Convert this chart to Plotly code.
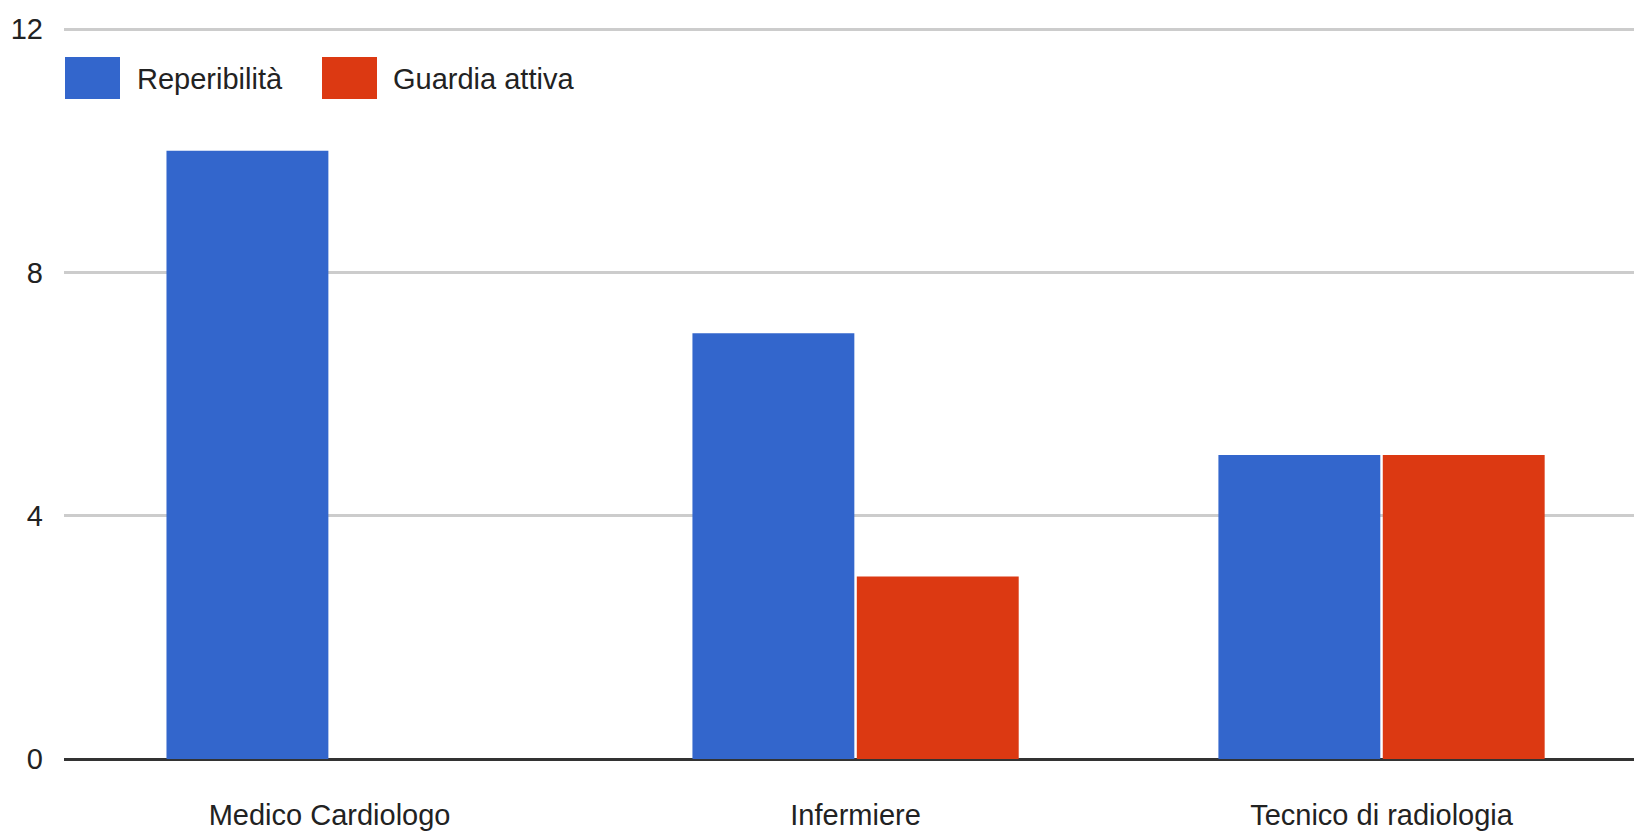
import plotly.graph_objects as go

categories = ["Medico Cardiologo", "Infermiere", "Tecnico di radiologia"]
series_names = ["Reperibilità", "Guardia attiva"]
reperibilita = [10, 7, 5]
guardia_attiva = [0, 3, 5]
series_colors = ["#3366cc", "#dc3912"]
y_ticks = [0, 4, 8, 12]

FONT = "Liberation Sans, Arial, sans-serif"
TXT = "#222222"
FS = 29

fig = go.Figure()
for name, vals, col in zip(series_names, [reperibilita, guardia_attiva], series_colors):
    fig.add_trace(go.Bar(x=categories, y=vals, name=name, marker_color=col,
                         marker_line_width=0, showlegend=False))

W, H = 1634, 838
L, R, T, B = 64, 0, 28, 79
pw, ph = W - L - R, H - T - B

def px_x(px):
    return (px - L) / pw

def px_y(py):
    return (H - B - py) / ph

# custom legend (large swatches like the reference)
legend_x = [65, 322]
text_x = [135, 391]
shapes = []
annotations = []
for i, (name, col) in enumerate(zip(series_names, series_colors)):
    shapes.append(dict(type="rect", xref="paper", yref="paper",
                       x0=px_x(legend_x[i]), x1=px_x(legend_x[i] + 55),
                       y0=px_y(99), y1=px_y(57), fillcolor=col, line_width=0))
    annotations.append(dict(text=name, xref="paper", yref="paper",
                            x=px_x(text_x[i]), y=px_y(79), xanchor="left",
                            yanchor="middle", showarrow=False,
                            font=dict(family=FONT, size=FS, color=TXT)))

fig.update_layout(
    width=W, height=H,
    margin=dict(l=L, r=R, t=T, b=B, pad=0),
    paper_bgcolor="white", plot_bgcolor="white",
    barmode="group", bargap=0.375, bargroupgap=0.015,
    font=dict(family=FONT, size=FS, color=TXT),
    shapes=shapes, annotations=annotations,
    xaxis=dict(range=[-0.505, 2.48], showgrid=False, showline=False,
               ticks="", ticklabelstandoff=36,
               tickfont=dict(family=FONT, size=FS, color=TXT), fixedrange=True),
    yaxis=dict(range=[0, 12.02], tickvals=y_ticks, showgrid=True,
               gridcolor="#cccccc", gridwidth=2.5,
               zeroline=True, zerolinecolor="#333333", zerolinewidth=3,
               showline=False, ticks="", ticklabelstandoff=20,
               tickfont=dict(family=FONT, size=FS, color=TXT), fixedrange=True),
)

fig.write_html("out.html", config={"displayModeBar": False})
